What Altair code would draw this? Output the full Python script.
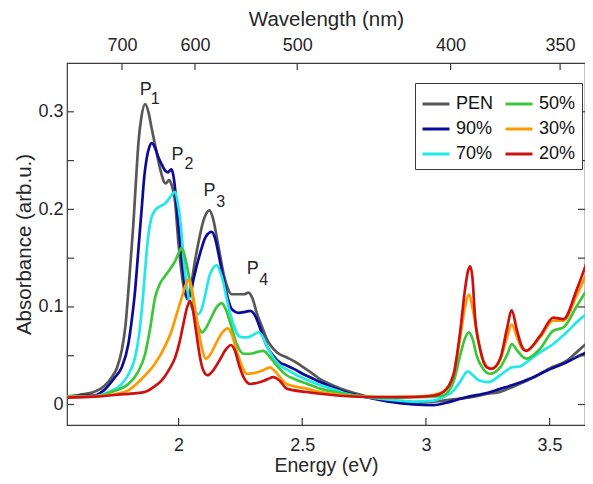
import altair as alt
import pandas as pd

FONT = "Liberation Sans"
TXT = "#262626"
FRAME = "#3a3a3a"

# ---------------- data ----------------
series_names = ["PEN", "90%", "70%", "50%", "30%", "20%"]
series_colors = ["#585858", "#0b0b98", "#22e8e8", "#3cc63c", "#ff9900", "#cc1111"]

pen_E = [1.55, 1.60, 1.66, 1.70, 1.73, 1.75, 1.77, 1.785, 1.797, 1.81, 1.817, 1.828, 1.838, 1.85, 1.865,
         1.878, 1.892, 1.91, 1.925, 1.948, 1.962, 1.972, 1.985, 1.999, 2.019, 2.036, 2.05, 2.065, 2.08, 2.10,
         2.125, 2.14, 2.154, 2.17, 2.181, 2.195, 2.215, 2.242, 2.265, 2.282, 2.30, 2.316, 2.337, 2.357, 2.40,
         2.44, 2.47, 2.505, 2.54, 2.572, 2.62, 2.68, 2.75, 2.85, 2.95, 3.03, 3.10, 3.17, 3.25, 3.30, 3.35,
         3.43, 3.50, 3.57, 3.62, 3.676]
pen_A = [0.008, 0.010, 0.013, 0.019, 0.028, 0.037, 0.055, 0.080, 0.116, 0.160, 0.184, 0.230, 0.269, 0.295, 0.308,
         0.300, 0.282, 0.260, 0.242, 0.2265, 0.230, 0.225, 0.210, 0.167, 0.123, 0.108, 0.121, 0.145, 0.1655, 0.188,
         0.199, 0.190, 0.172, 0.150, 0.135, 0.122, 0.113, 0.113, 0.113, 0.1146, 0.108, 0.094, 0.080, 0.067, 0.053,
         0.048, 0.044, 0.038, 0.032, 0.026, 0.020, 0.014, 0.009, 0.004, 0.0015, 0.003, 0.005, 0.007, 0.011, 0.013, 0.018,
         0.027, 0.037, 0.045, 0.056, 0.069]

p90_E = [1.55, 1.60, 1.662, 1.70, 1.743, 1.77, 1.797, 1.81, 1.824, 1.838, 1.851, 1.862, 1.871, 1.882, 1.892,
         1.905, 1.918, 1.932, 1.945, 1.958, 1.970, 1.978, 1.986, 1.995, 2.006, 2.023, 2.036, 2.046, 2.06, 2.087,
         2.11, 2.134, 2.148, 2.161, 2.175, 2.188, 2.20, 2.215, 2.242, 2.27, 2.29, 2.305, 2.316, 2.337, 2.357,
         2.383, 2.41, 2.437, 2.47, 2.505, 2.54, 2.572, 2.62, 2.68, 2.75, 2.85, 2.95, 3.03, 3.10, 3.165, 3.25,
         3.30, 3.35, 3.434, 3.50, 3.569, 3.62, 3.676]
p90_A = [0.008, 0.009, 0.0095, 0.015, 0.028, 0.038, 0.062, 0.085, 0.116, 0.160, 0.201, 0.235, 0.252, 0.264, 0.268,
         0.263, 0.2536, 0.246, 0.240, 0.238, 0.241, 0.236, 0.221, 0.195, 0.167, 0.126, 0.110, 0.111, 0.128, 0.155,
         0.172, 0.177, 0.170, 0.155, 0.137, 0.121, 0.108, 0.0977, 0.094, 0.095, 0.096, 0.093, 0.0875, 0.073, 0.060,
         0.050, 0.043, 0.040, 0.036, 0.031, 0.027, 0.023, 0.018, 0.012, 0.008, 0.003, 0.000, -0.0007, 0.003, 0.0077, 0.012,
         0.016, 0.020, 0.028, 0.036, 0.0433, 0.050, 0.057]

p70_E = [1.55, 1.662, 1.72, 1.77, 1.80, 1.824, 1.842, 1.858, 1.868, 1.878, 1.890, 1.905, 1.925, 1.945, 1.962,
         1.976, 1.986, 1.996, 2.006, 2.023, 2.035, 2.046, 2.062, 2.080, 2.095, 2.110, 2.125, 2.140, 2.154, 2.168,
         2.181, 2.195, 2.208, 2.225, 2.242, 2.255, 2.276, 2.30, 2.323, 2.337, 2.357, 2.383, 2.41, 2.437, 2.47,
         2.505, 2.54, 2.572, 2.62, 2.68, 2.75, 2.85, 2.95, 3.03, 3.071, 3.111, 3.14, 3.169, 3.19, 3.215, 3.253,
         3.30, 3.347, 3.38, 3.405, 3.461, 3.515, 3.569, 3.623, 3.676]
p70_A = [0.008, 0.0085, 0.013, 0.021, 0.032, 0.048, 0.075, 0.116, 0.148, 0.174, 0.191, 0.199, 0.203, 0.206, 0.211,
         0.216, 0.218, 0.208, 0.191, 0.1434, 0.118, 0.104, 0.096, 0.0925, 0.099, 0.115, 0.132, 0.140, 0.143, 0.136,
         0.125, 0.108, 0.094, 0.080, 0.0705, 0.069, 0.0688, 0.071, 0.0739, 0.071, 0.060, 0.048, 0.040, 0.036, 0.031,
         0.027, 0.023, 0.020, 0.016, 0.011, 0.008, 0.005, 0.003, 0.004, 0.0077, 0.014, 0.024, 0.034, 0.030, 0.0247, 0.023,
         0.030, 0.038, 0.039, 0.043, 0.0535, 0.062, 0.074, 0.0875, 0.0977]

p50_E = [1.55, 1.662, 1.73, 1.797, 1.835, 1.865, 1.885, 1.905, 1.925, 1.945, 1.966, 1.986, 2.000, 2.010, 2.022,
         2.033, 2.053, 2.070, 2.085, 2.095, 2.110, 2.13, 2.155, 2.175, 2.19, 2.21, 2.235, 2.262, 2.29, 2.32,
         2.343, 2.365, 2.39, 2.437, 2.47, 2.518, 2.572, 2.65, 2.75, 2.85, 2.95, 3.03, 3.071, 3.111, 3.138,
         3.158, 3.174, 3.19, 3.205, 3.23, 3.259, 3.30, 3.33, 3.347, 3.367, 3.394, 3.407, 3.461, 3.515, 3.556,
         3.61, 3.676]
p50_A = [0.008, 0.008, 0.013, 0.021, 0.033, 0.052, 0.078, 0.1095, 0.124, 0.1315, 0.139, 0.147, 0.155, 0.160, 0.155,
         0.143, 0.116, 0.090, 0.077, 0.074, 0.078, 0.088, 0.100, 0.104, 0.098, 0.083, 0.062, 0.052, 0.052, 0.054,
         0.055, 0.050, 0.042, 0.030, 0.026, 0.0214, 0.0163, 0.012, 0.008, 0.007, 0.0075, 0.008, 0.0095, 0.023, 0.050,
         0.068, 0.074, 0.066, 0.050, 0.037, 0.0315, 0.038, 0.052, 0.062, 0.056, 0.0484, 0.047, 0.057, 0.0756, 0.079,
         0.101, 0.128]

p30_E = [1.55, 1.662, 1.75, 1.797, 1.85, 1.905, 1.94, 1.972, 1.995, 2.013, 2.028, 2.040, 2.050, 2.060, 2.075,
         2.090, 2.111, 2.13, 2.15, 2.175, 2.199, 2.215, 2.235, 2.255, 2.276, 2.30, 2.34, 2.370, 2.39, 2.437,
         2.518, 2.572, 2.65, 2.75, 2.85, 2.95, 3.03, 3.071, 3.111, 3.138, 3.158, 3.174, 3.19, 3.205, 3.225,
         3.246, 3.266, 3.30, 3.327, 3.347, 3.367, 3.387, 3.405, 3.462, 3.515, 3.556, 3.61, 3.676]
p30_A = [0.0075, 0.0085, 0.011, 0.0145, 0.026, 0.042, 0.057, 0.0756, 0.095, 0.1095, 0.122, 0.128, 0.123, 0.1095, 0.085,
         0.063, 0.047, 0.052, 0.062, 0.073, 0.078, 0.072, 0.055, 0.040, 0.0315, 0.032, 0.035, 0.038, 0.034, 0.021,
         0.0163, 0.0128, 0.010, 0.008, 0.0075, 0.008, 0.010, 0.0135, 0.030, 0.068, 0.100, 0.113, 0.097, 0.075, 0.050,
         0.039, 0.0366, 0.046, 0.068, 0.082, 0.070, 0.058, 0.055, 0.069, 0.086, 0.086, 0.112, 0.150]

p20_E = [1.55, 1.662, 1.75, 1.865, 1.90, 1.932, 1.96, 1.986, 2.005, 2.019, 2.035, 2.046, 2.057, 2.067, 2.077,
         2.087, 2.100, 2.116, 2.14, 2.165, 2.19, 2.212, 2.228, 2.245, 2.265, 2.290, 2.33, 2.36, 2.383, 2.41,
         2.437, 2.518, 2.572, 2.65, 2.75, 2.85, 2.95, 3.03, 3.071, 3.111, 3.138, 3.158, 3.170, 3.179, 3.188,
         3.198, 3.219, 3.246, 3.266, 3.300, 3.327, 3.347, 3.367, 3.387, 3.405, 3.462, 3.515, 3.556, 3.61, 3.676]
p20_A = [0.007, 0.008, 0.010, 0.013, 0.018, 0.0247, 0.035, 0.048, 0.065, 0.082, 0.100, 0.106, 0.098, 0.082, 0.064,
         0.048, 0.035, 0.030, 0.035, 0.045, 0.056, 0.061, 0.055, 0.040, 0.027, 0.021, 0.023, 0.026, 0.028, 0.024,
         0.0163, 0.0128, 0.011, 0.009, 0.0077, 0.0075, 0.0077, 0.009, 0.0128, 0.030, 0.074, 0.118, 0.137, 0.1417, 0.130,
         0.091, 0.057, 0.038, 0.0366, 0.0468, 0.077, 0.0966, 0.077, 0.060, 0.055, 0.0705, 0.089, 0.0875, 0.118, 0.165]

series_E = [pen_E, p90_E, p70_E, p50_E, p30_E, p20_E]
series_A = [pen_A, p90_A, p70_A, p50_A, p30_A, p20_A]

x_ticks = [2, 2.5, 3, 3.5]
y_ticks = [0, 0.1, 0.2, 0.3]
y_minor = [0, 0.05, 0.1, 0.15, 0.2, 0.25, 0.3]
wl_ticks = [700, 600, 500, 400, 350]
HC = 1239.84

ann_E = [1.867, 1.996, 2.125, 2.2995]
ann_A = [0.3225, 0.2562, 0.2186, 0.139]
ann_txt = ["P", "P", "P", "P"]
sub_E = [1.906, 2.0416, 2.1706, 2.344]
sub_A = [0.3126, 0.2470, 0.2078, 0.128]
sub_txt = ["1", "2", "3", "4"]

# ---------------- build tables ----------------
rows = []
for name, es, ab in zip(series_names, series_E, series_A):
    for e, a in zip(es, ab):
        rows.append({"series": name, "E": e, "A": a})
df = pd.DataFrame(rows)

W, H = 518, 362
x_dom = [1.549, 3.643]
y_dom = [-0.021, 0.350]
xs = alt.Scale(domain=x_dom, nice=False, zero=False)
ys = alt.Scale(domain=y_dom, nice=False, zero=False)
TL = 7

lines = alt.Chart(df).mark_line(strokeWidth=2.7, interpolate="monotone", clip=True).encode(
    x=alt.X("E:Q", scale=xs, axis=alt.Axis(
        orient="bottom", values=x_ticks, format=".1~f", title="Energy (eV)",
        ticks=False, domain=False, grid=False, labelPadding=11, titlePadding=2,
        labelFontSize=18, titleFontSize=19.5, labelFont=FONT, titleFont=FONT,
        labelColor=TXT, titleColor=TXT, titleFontWeight="normal")),
    y=alt.Y("A:Q", scale=ys, axis=alt.Axis(
        values=y_ticks, format=".1~f", title="Absorbance (arb.u.)",
        ticks=False, domain=False, grid=False, labelPadding=4, titlePadding=3,
        labelFontSize=18, titleFontSize=20.5, labelFont=FONT, titleFont=FONT,
        labelColor=TXT, titleColor=TXT, titleFontWeight="normal")),
    color=alt.Color("series:N", scale=alt.Scale(domain=series_names, range=series_colors),
                    legend=alt.Legend(
                        title=None, orient="none", legendX=348, legendY=20, columns=2,
                        symbolType="stroke", symbolSize=729, symbolStrokeWidth=3,
                        labelFontSize=18, labelFont=FONT, labelColor="#111111",
                        strokeColor=FRAME, fillColor="white", padding=6,
                        rowPadding=1, columnPadding=5, labelOffset=5)),
)

# top wavelength axis (shares the energy scale)
top_df = pd.DataFrame({"E": [HC / w for w in wl_ticks]})
top_ticks = alt.Chart(top_df).mark_rule(color=FRAME, strokeWidth=1.2).encode(
    x=alt.X("E:Q", scale=xs, axis=alt.Axis(
        orient="top", values=[HC / w for w in wl_ticks], labelExpr="round(1239.84/datum.value)",
        title="Wavelength (nm)", ticks=False, domain=False, grid=False, labelPadding=9, titlePadding=7,
        labelFontSize=18, titleFontSize=20.5, labelFont=FONT, titleFont=FONT,
        labelColor=TXT, titleColor=TXT, titleFontWeight="normal")),
    y=alt.value(0), y2=alt.value(TL),
)

bot_df = pd.DataFrame({"E": x_ticks})
bot_ticks = alt.Chart(bot_df).mark_rule(color=FRAME, strokeWidth=1.2).encode(
    x=alt.X("E:Q", scale=xs, axis=None),
    y=alt.value(H), y2=alt.value(H - TL),
)

yt_df = pd.DataFrame({"A": y_minor})
left_ticks = alt.Chart(yt_df).mark_rule(color=FRAME, strokeWidth=1.2).encode(
    y=alt.Y("A:Q", scale=ys, axis=None),
    x=alt.value(0), x2=alt.value(TL),
)
right_ticks = alt.Chart(yt_df).mark_rule(color=FRAME, strokeWidth=1.2).encode(
    y=alt.Y("A:Q", scale=ys, axis=None),
    x=alt.value(W), x2=alt.value(W - TL),
)

ann_df = pd.DataFrame({"E": ann_E, "A": ann_A, "t": ann_txt})
ann = alt.Chart(ann_df).mark_text(font=FONT, fontSize=18, color=TXT, baseline="middle", align="center").encode(
    x=alt.X("E:Q", scale=xs, axis=None), y=alt.Y("A:Q", scale=ys, axis=None), text="t:N")
sub_df = pd.DataFrame({"E": sub_E, "A": sub_A, "t": sub_txt})
sub = alt.Chart(sub_df).mark_text(font=FONT, fontSize=16, color=TXT, baseline="middle", align="center").encode(
    x=alt.X("E:Q", scale=xs, axis=None), y=alt.Y("A:Q", scale=ys, axis=None), text="t:N")

chart = alt.layer(lines, top_ticks, bot_ticks, left_ticks, right_ticks, ann, sub).resolve_axis(
    x="independent", y="independent"
).properties(
    width=W, height=H,
    autosize=alt.AutoSizeParams(type="none"),
    padding={"left": 59, "top": 55, "right": 0, "bottom": 51},
).configure_view(stroke=FRAME, strokeWidth=1.2)

chart.save("out.html", embed_options={"renderer": "svg", "actions": False})
